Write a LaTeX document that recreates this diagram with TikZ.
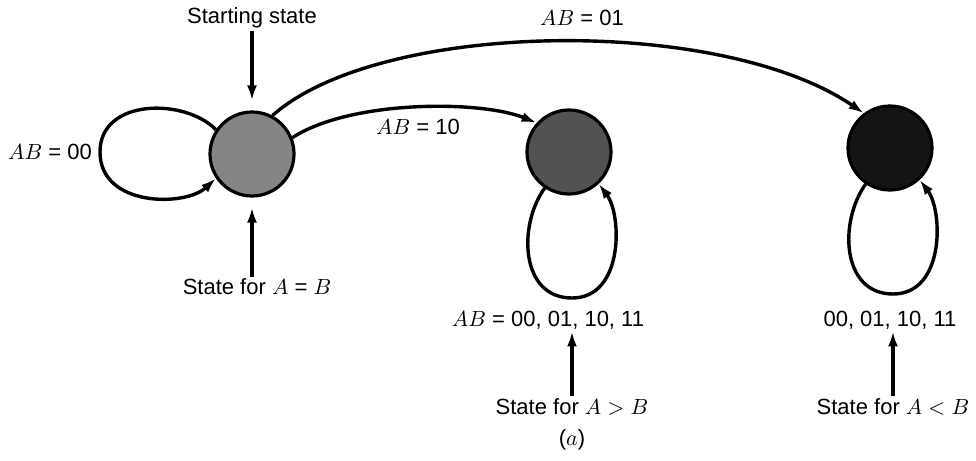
\documentclass[tikz,border=0pt]{standalone}
\usepackage{fontspec}
\setmainfont{Liberation Sans}
\usetikzlibrary{arrows.meta,positioning}
\tikzset{
  statecirc/.style={circle, draw=black, line width=1.6pt, minimum size=42pt,
    inner sep=0pt, fill=#1},
  statecirc/.default={black!48},
  transarr/.style={-{Latex[length=7.5pt,width=5pt]}, line width=1.7pt},
}

\begin{document}
\begin{tikzpicture}[x=0.5pt, y=0.5pt,
  lbl/.style={font=\fontsize{11}{13}\selectfont, inner sep=1pt},
  pointer/.style={transarr, shorten >=5pt},
]
  \useasboundingbox (0,0) rectangle (976,-461);
  \node[statecirc] (eq) at (252,-154) {};
  \node[statecirc=black!68] (gt) at (569,-152) {};
  \node[statecirc=black!92] (lt) at (890,-148) {};

  \node[lbl] (start) at (252,-18) {Starting state};
  \node[lbl] (eqnote) at (257,-287) {State for $A$ = $B$};
  \node[lbl] (gtlbl) at (548,-320) {$AB$ = 00, 01, 10, 11};
  \node[lbl] (ltlbl) at (890,-320) {00, 01, 10, 11};
  \node[lbl] (gtnote) at (572,-407) {State for $A > B$};
  \node[lbl] (ltnote) at (893,-407) {State for $A < B$};
  \node[lbl] (cap) at (572,-440) {($a$)};

  \draw[pointer] (start.south) -- (eq.north);
  \draw[pointer] (eq.south |- eqnote.north) -- (eq.south);
  \draw[transarr] (gtnote.north) -- (gtnote.north |- gtlbl.south);
  \draw[transarr] (ltnote.north) -- (ltnote.north |- ltlbl.south);

  \draw[transarr] (eq.146) .. controls (185,-98) and (100,-98) .. (100,-152)
    .. controls (100,-207) and (185,-207) .. (eq.214);
  \node[lbl] (loop00) at (50,-152) {$AB$ = 00};

  \foreach \n in {gt,lt} {
    \draw[transarr] (\n.236) .. controls ([shift={(-51,-73)}]\n.center)
      and ([shift={(-49,-146)}]\n.center) .. ([shift={(3,-146)}]\n.center)
      .. controls ([shift={(55,-146)}]\n.center) and ([shift={(53,-63)}]\n.center)
      .. (\n.313);
  }

  \draw[transarr] (eq.22) .. controls (350,-100) and (480,-100) .. (gt.138);
  \node[lbl] (tr10) at (418,-127) {$AB$ = 10};
  \draw[transarr] (eq.62) .. controls (380,-20) and (720,-15) .. (lt.127);
  \node[lbl] (tr01) at (582,-18) {$AB$ = 01};
\end{tikzpicture}
\end{document}
